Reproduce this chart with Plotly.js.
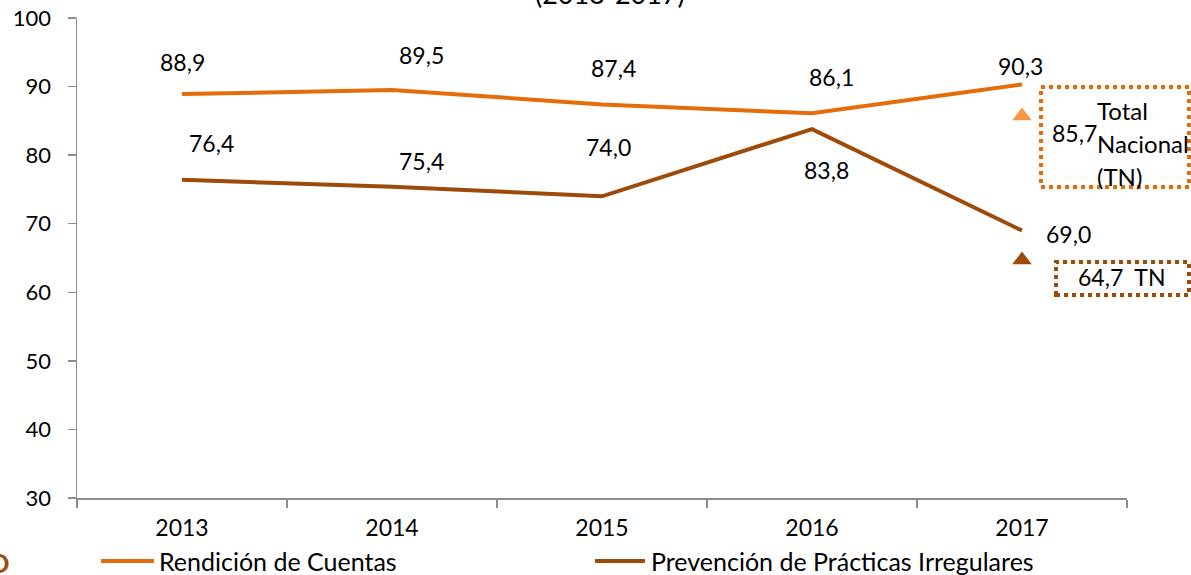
<!DOCTYPE html>
<html>
<head>
<meta charset="utf-8">
<script src="https://cdn.plot.ly/plotly-3.0.1.min.js"></script>
<style>html,body{margin:0;padding:0;background:#fff;}#chart{width:1191px;height:575px;}</style>
</head>
<body>
<div id="chart"></div>
<script>
const years = ["2013", "2014", "2015", "2016", "2017"];
const rendicion = [88.9, 89.5, 87.4, 86.1, 90.3];
const prevencion = [76.4, 75.4, 74.0, 83.8, 69.0];
const tnYear = "2017";
const tnRendicion = 85.7;
const tnPrevencion = 64.7;
const seriesNames = ["Rendición de Cuentas", "Prevención de Prácticas Irregulares"];
const titleText = "(2013-2017)";

const cOrange = "#E46C0A";
const cBrown = "#9E4A08";
const cLight = "#F79646";
const FONT = "Lato, 'Liberation Sans', sans-serif";
const fmt = v => v.toFixed(1).replace(".", ",");

const traces = [
  {x: years, y: rendicion, type: "scatter", mode: "lines", name: seriesNames[0],
   line: {color: cOrange, width: 4}, showlegend: false, hoverinfo: "skip"},
  {x: years, y: prevencion, type: "scatter", mode: "lines", name: seriesNames[1],
   line: {color: cBrown, width: 4}, showlegend: false, hoverinfo: "skip"},
  {x: [tnYear], y: [tnRendicion], type: "scatter", mode: "markers",
   marker: {symbol: "triangle-up", size: 17, color: cLight}, showlegend: false, hoverinfo: "skip"},
  {x: [tnYear], y: [tnPrevencion], type: "scatter", mode: "markers",
   marker: {symbol: "triangle-up", size: 17, color: cBrown}, showlegend: false, hoverinfo: "skip"}
];

// label offsets (pixels) for data labels
const rShift = [[0, 32], [29, 35], [11, 36], [19, 36], [-2, 19]];
const pShift = [[29, 37], [29, 26], [6, 49], [14, -41], [46, -3]];

const lab = {family: FONT, size: 23, color: "#000"};
const word = {family: FONT, size: 24, color: "#000"};
const legf = {family: FONT, size: 25, color: "#000"};
const annotations = [];
years.forEach((yr, i) => {
  const xi = years.indexOf(yr);
  annotations.push({x: xi, y: rendicion[i], xref: "x", yref: "y", text: fmt(rendicion[i]),
    xanchor: "center", yanchor: "middle",
    showarrow: false, xshift: rShift[i][0], yshift: rShift[i][1], font: lab});
  annotations.push({x: xi, y: prevencion[i], xref: "x", yref: "y", text: fmt(prevencion[i]),
    xanchor: "center", yanchor: "middle",
    showarrow: false, xshift: pShift[i][0], yshift: pShift[i][1], font: lab});
});

// Plot area geometry for paper conversion
const L = 77, T = 18, W = 1050, H = 480;
const px = x => (x - L) / W;
const py = y => (T + H - y) / H;
const note = (x, y, text, font, xanchor) => ({xref: "paper", yref: "paper", x: px(x), y: py(y), text: text,
  xanchor: xanchor || "center", yanchor: "middle", showarrow: false, font: font});

// TN text
annotations.push(note(1074, 133, fmt(tnRendicion), lab));
annotations.push(note(1095, 111, "Total", word, "left"));
annotations.push(note(1095, 144, "Nacional", word, "left"));
annotations.push(note(1095, 176, "(TN)", word, "left"));
annotations.push(note(1121, 277, fmt(tnPrevencion) + "&nbsp;&nbsp;TN", lab));

// Title (partially cropped at top)
annotations.push(note(610, -6, titleText, {family: FONT, size: 27, color: "#000"}));

// Cropped letter bottom-left
annotations.push(note(12, 562, "<b>D</b>", {family: FONT, size: 27, color: cBrown}, "right"));

// Legend (custom)
annotations.push(note(157, 561, seriesNames[0], legf, "left"));
annotations.push(note(649, 561, seriesNames[1], legf, "left"));

const shapes = [
  {type: "rect", xref: "paper", yref: "paper", x0: px(1041), x1: px(1189), y0: py(187), y1: py(87),
   line: {color: cOrange, width: 4, dash: "dot"}},
  {type: "rect", xref: "paper", yref: "paper", x0: px(1056), x1: px(1189), y0: py(295), y1: py(262),
   line: {color: cBrown, width: 4, dash: "dot"}},
  {type: "line", xref: "paper", yref: "paper", x0: px(101), x1: px(154), y0: py(561), y1: py(561),
   line: {color: cOrange, width: 4}},
  {type: "line", xref: "paper", yref: "paper", x0: px(595), x1: px(645), y0: py(561), y1: py(561),
   line: {color: cBrown, width: 4}}
];

const layout = {
  width: 1191, height: 575,
  margin: {l: L, r: 1191 - L - W, t: T, b: 575 - T - H},
  paper_bgcolor: "#fff", plot_bgcolor: "#fff",
  showlegend: false,
  font: {family: FONT, size: 22, color: "#000"},
  xaxis: {type: "category", range: [-0.5, 4.5], tickson: "boundaries", ticks: "outside", ticklen: 8,
    tickcolor: "#8c8c8c", tickwidth: 1.5, showline: true, linecolor: "#8c8c8c", linewidth: 1.5,
    showgrid: false, zeroline: false, tickfont: {family: FONT, size: 23, color: "#000"}, ticklabelstandoff: 9},
  yaxis: {range: [30, 100], dtick: 10, ticks: "outside", ticklen: 8, tickcolor: "#8c8c8c", tickwidth: 1.5,
    showline: true, linecolor: "#8c8c8c", linewidth: 1.5, showgrid: false, zeroline: false,
    tickfont: {family: FONT, size: 22, color: "#000"}, ticklabelstandoff: 12},
  annotations: annotations,
  shapes: shapes
};

Plotly.newPlot("chart", traces, layout, {displayModeBar: false, staticPlot: true});
</script>
</body>
</html>
